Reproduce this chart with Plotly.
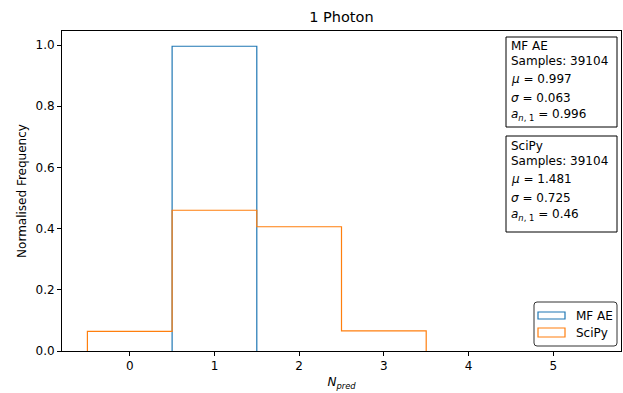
import plotly.graph_objects as go

# Histogram bins: integer photon counts, bins centred on each integer
bin_edges = [-0.5, 0.5, 1.5, 2.5, 3.5, 4.5, 5.5]
mf_ae_freq = [0.0, 0.996, 0.0, 0.0, 0.0, 0.0]
scipy_freq = [0.064, 0.46, 0.406, 0.066, 0.0, 0.0]

x_ticks = [0, 1, 2, 3, 4, 5]
y_ticks = [0.0, 0.2, 0.4, 0.6, 0.8, 1.0]

mf_ae_stats = dict(name="MF AE", samples=39104, mu=0.997, sigma=0.063, an1=0.996)
scipy_stats = dict(name="SciPy", samples=39104, mu=1.481, sigma=0.725, an1=0.46)

BLUE = "#1f77b4"
ORANGE = "#ff7f0e"
FONT = "DejaVu Sans, Arial, sans-serif"
FS = 12

# plot-area geometry in pixels (used to place the boxes and legend)
W, H = 623, 393
M_L, M_R, M_T, M_B = 62, 2, 31, 42
PLOT_W = W - M_L - M_R
PLOT_H = H - M_T - M_B


def px_x(px):
    return (px - M_L) / PLOT_W


def px_y(py):
    return (H - M_B - py) / PLOT_H


def step_outline(edges, heights):
    """Outline of a step histogram; runs along the baseline are left out
    so they stay hidden beneath the axis line."""
    pts = [(edges[0], 0.0)]
    for i, h in enumerate(heights):
        pts += [(edges[i], h), (edges[i + 1], h)]
    pts.append((edges[-1], 0.0))
    xs, ys = [pts[0][0]], [pts[0][1]]
    for (px, py), (qx, qy) in zip(pts[:-1], pts[1:]):
        if py == 0 and qy == 0 and px != qx:
            xs.append(None)
            ys.append(None)
        xs.append(qx)
        ys.append(qy)
    return xs, ys


fig = go.Figure()
series = [("MF AE", mf_ae_freq, BLUE), ("SciPy", scipy_freq, ORANGE)]
for name, freq, color in series:
    xs, ys = step_outline(bin_edges, freq)
    fig.add_trace(go.Scatter(
        x=xs, y=ys, name=name, mode="lines", showlegend=False,
        line=dict(color=color, width=1.2), hoverinfo="skip", connectgaps=False,
    ))


def stats_lines(s):
    return [
        s["name"],
        f"Samples: {s['samples']}",
        f"<i>μ</i> = {s['mu']}",
        f"<i>σ</i> = {s['sigma']}",
        f"<i>a</i><sub><i>n</i>, 1</sub> = {s['an1']}",
    ]


# stats boxes: extents (top, bottom) and line centres, in pixels
boxes = [
    (mf_ae_stats, 37, 127, [46, 61, 79, 98, 115]),
    (scipy_stats, 136, 232, [146, 161, 179, 198, 215]),
]
for s, top, bottom, centres in boxes:
    fig.add_shape(
        type="rect", xref="paper", yref="paper",
        x0=px_x(506), x1=px_x(617), y0=px_y(bottom), y1=px_y(top),
        line=dict(color="black", width=1), fillcolor="white", layer="above",
    )
    for text, cy in zip(stats_lines(s), centres):
        fig.add_annotation(
            text=text, xref="paper", yref="paper", x=px_x(509), y=px_y(cy),
            xanchor="left", yanchor="middle", align="left", showarrow=False,
            font=dict(family=FONT, size=FS, color="black"),
        )


def rounded_rect(x0, y0, x1, y1, r):
    """SVG path (paper coords) of a rectangle with rounded corners, given in pixels."""
    pts = [
        f"M {px_x(x0 + r)},{px_y(y0)}",
        f"L {px_x(x1 - r)},{px_y(y0)}",
        f"Q {px_x(x1)},{px_y(y0)} {px_x(x1)},{px_y(y0 + r)}",
        f"L {px_x(x1)},{px_y(y1 - r)}",
        f"Q {px_x(x1)},{px_y(y1)} {px_x(x1 - r)},{px_y(y1)}",
        f"L {px_x(x0 + r)},{px_y(y1)}",
        f"Q {px_x(x0)},{px_y(y1)} {px_x(x0)},{px_y(y1 - r)}",
        f"L {px_x(x0)},{px_y(y0 + r)}",
        f"Q {px_x(x0)},{px_y(y0)} {px_x(x0 + r)},{px_y(y0)}",
        "Z",
    ]
    return " ".join(pts)


# legend: rounded frame with outlined patches
fig.add_shape(
    type="path", xref="paper", yref="paper",
    path=rounded_rect(534, 302, 617, 346, 3),
    line=dict(color="#333333", width=1), fillcolor="white", layer="above",
)
for (name, _, color), (p_top, p_bot) in zip(series, [(312, 319), (328, 337)]):
    fig.add_shape(
        type="rect", xref="paper", yref="paper",
        x0=px_x(538), x1=px_x(565), y0=px_y(p_bot), y1=px_y(p_top),
        line=dict(color=color, width=1.2), fillcolor="white", layer="above",
    )
    fig.add_annotation(
        text=name, xref="paper", yref="paper", x=px_x(574), y=px_y((p_top + p_bot) / 2),
        xanchor="left", yanchor="middle", showarrow=False,
        font=dict(family=FONT, size=FS, color="black"),
    )

axis_common = dict(
    showline=True, linecolor="black", linewidth=1, mirror=True,
    ticks="outside", ticklen=4, tickcolor="black", showgrid=False,
    zeroline=False, layer="above traces",
    tickfont=dict(family=FONT, size=FS, color="black"),
)

fig.update_layout(
    width=W, height=H,
    margin=dict(l=M_L, r=M_R, t=M_T, b=M_B),
    paper_bgcolor="white", plot_bgcolor="white",
    title=dict(text="1 Photon", x=0.548, xanchor="center", y=0.957, yanchor="middle",
               font=dict(family=FONT, size=14.5, color="black")),
    xaxis=dict(range=[-0.8, 5.8], tickvals=x_ticks,
               title=dict(text="<i>N</i><sub><i>pred</i></sub>", standoff=5,
                          font=dict(family=FONT, size=FS, color="black")),
               **axis_common),
    yaxis=dict(range=[0, 1.0458], tickvals=y_ticks, tickformat=".1f",
               title=dict(text="Normalised Frequency", standoff=6,
                          font=dict(family=FONT, size=FS, color="black")),
               **axis_common),
    showlegend=False,
)

fig.write_html("out.html")
